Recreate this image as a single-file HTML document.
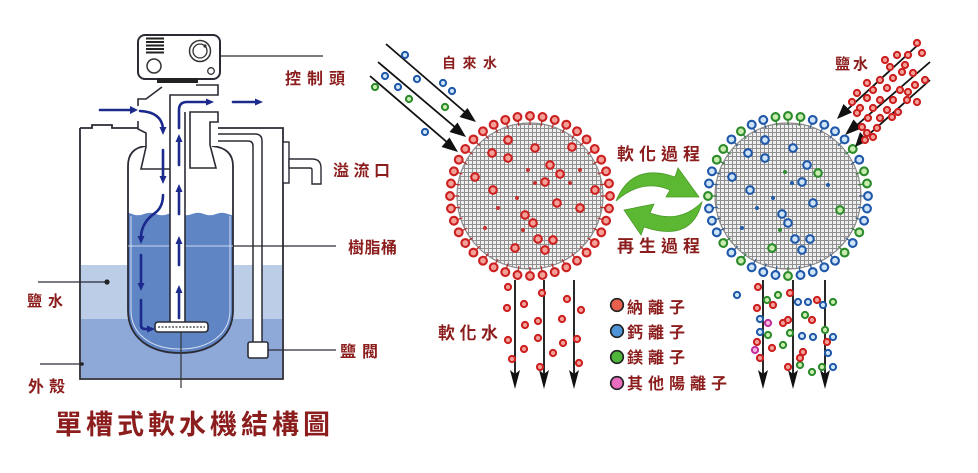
<!DOCTYPE html>
<html><head><meta charset="utf-8">
<style>
html,body{margin:0;padding:0;background:#fff;}
svg{display:block;}
text{font-family:"Liberation Sans","Noto Sans CJK TC",sans-serif;fill:#8c1d1d;font-weight:700;}
</style></head><body>
<svg width="978" height="473" viewBox="0 0 978 473" xmlns="http://www.w3.org/2000/svg">
<defs>
<pattern id="grid" width="4" height="4" patternUnits="userSpaceOnUse">
<rect width="4" height="4" fill="#efefef"/>
<path d="M0 0.5H4M0.5 0V4" stroke="#8f8f8f" stroke-width="1"/>
</pattern>
<clipPath id="tankclip"><path d="M146,146 Q128,148 128,166 V310 C128,338 150,353 180,353 C210,353 233,338 233,310 V166 Q233,148 212,146 Z"/></clipPath>
<g id="dr"><line x1="601" y1="196" x2="606" y2="196" stroke="#b03030" stroke-width="1.3"/><circle cx="610" cy="196" r="3.9" fill="#f2a098" stroke="#cc1f1f" stroke-width="2.1"/></g>
<g id="db"><line x1="859" y1="196" x2="864" y2="196" stroke="#3a5f90" stroke-width="1.3"/><circle cx="868" cy="196" r="3.9" fill="#cfe4f8" stroke="#1f58a8" stroke-width="2.1"/></g>
<g id="dg"><line x1="859" y1="196" x2="864" y2="196" stroke="#3a7a3a" stroke-width="1.3"/><circle cx="868" cy="196" r="3.9" fill="#c8ecae" stroke="#2b8a2b" stroke-width="2.1"/></g>
</defs>

<!-- ================= LEFT: softener structure ================= -->
<rect x="81" y="265" width="201" height="55" fill="#bccde8"/>
<rect x="81" y="319" width="201" height="59" fill="#8ea8d8"/>

<path d="M80,128 V379 H283 V128 H210 M80,128 H92 V125 H112 V128 H138" fill="none" stroke="#2b2b35" stroke-width="1.8"/>

<rect x="283" y="142" width="6" height="41" fill="#fff" stroke="#2b2b35" stroke-width="1.4"/>
<path d="M289,159 H312 Q321,159 321,168 V184 H312 V170 Q312,168 310,168 H289 Z" fill="#fff" stroke="#2b2b35" stroke-width="1.4"/>

<path d="M212,134 H255 Q262,134 262,141 V343 H253 V146 Q253,141 248,141 H212 Z" fill="#fff" stroke="#2b2b35" stroke-width="1.5"/>
<rect x="248" y="342" width="20" height="16" rx="2" fill="#fff" stroke="#2b2b35" stroke-width="1.6"/>

<path d="M146,146 Q128,148 128,166 V310 C128,338 150,353 180,353 C210,353 233,338 233,310 V166 Q233,148 212,146 Z" fill="#fff"/>
<g clip-path="url(#tankclip)">
<path d="M120,214 q6,-2.5 12,0 t12,0 t12,0 t12,0 t12,0 t12,0 t12,0 t12,0 t12,0 t12,0 V360 H120 Z" fill="#6085c5"/>
</g>
<path d="M131,216 V310 C131,335 152,349 180,349 C208,349 230,335 230,310 V216" fill="none" stroke="#d6e1f3" stroke-width="1"/>
<path d="M146,146 Q128,148 128,166 V310 C128,338 150,353 180,353 C210,353 233,338 233,310 V166 Q233,148 212,146" fill="none" stroke="#2b2b35" stroke-width="1.8"/>
<line x1="128" y1="246" x2="233" y2="246" stroke="#e3ebf8" stroke-width="1" opacity="0.8"/>

<rect x="139" y="96" width="79" height="50" fill="#fff"/>
<path d="M138,121 V129 L146,133 V147 L141,169 H170" fill="none" stroke="#2b2b35" stroke-width="1.6"/>
<path d="M138,106 V99 H146 L162,87" fill="none" stroke="#2b2b35" stroke-width="1.6"/>
<path d="M190,168 V112 H218 V122 H210 V145 L216,168 Z" fill="#fff" stroke="#2b2b35" stroke-width="1.6"/>
<rect x="170.5" y="95" width="14.5" height="228" fill="#fff"/>
<path d="M170,322 V95 H218 V85 H196" fill="none" stroke="#2b2b35" stroke-width="1.6"/>
<path d="M185,322 V112" fill="none" stroke="#2b2b35" stroke-width="1.6"/>
<rect x="155" y="322" width="53" height="10" rx="3" fill="#fff" stroke="#2b2b35" stroke-width="1.6"/>
<line x1="158" y1="327" x2="205" y2="327" stroke="#333" stroke-width="1.3" stroke-dasharray="2 1.5"/>
<line x1="181" y1="332" x2="181" y2="388" stroke="#333" stroke-width="1.2"/>

<rect x="138" y="35" width="82" height="44" rx="7" fill="#fff" stroke="#2b2b35" stroke-width="2"/>
<rect x="157" y="78" width="41" height="5" fill="#222"/>
<path d="M146,38.5H164M146,42H164M146,45.5H164M146,49H164M146,52.5H164" stroke="#222" stroke-width="2"/>
<circle cx="154" cy="66" r="7" fill="none" stroke="#333" stroke-width="1.5"/>
<circle cx="200" cy="51" r="10.5" fill="none" stroke="#333" stroke-width="1.5"/>
<circle cx="200" cy="51" r="7" fill="none" stroke="#333" stroke-width="1.3"/>
<circle cx="205" cy="46" r="1.6" fill="#333"/>
<circle cx="211" cy="71" r="3.3" fill="none" stroke="#333" stroke-width="1.3"/>

<g stroke="#2b2b35" stroke-width="1.3">
<line x1="220" y1="56" x2="323" y2="56"/>
<line x1="233" y1="246" x2="336" y2="246"/>
<line x1="268" y1="350" x2="336" y2="350"/>
<line x1="38" y1="282" x2="107" y2="282"/>
<line x1="40" y1="364" x2="81" y2="364"/>
</g>
<circle cx="107" cy="282" r="2.6" fill="#222"/>
<circle cx="82" cy="364" r="1.8" fill="#222"/>

<g stroke="#1b2a8c" stroke-width="2.6" fill="none" stroke-linecap="round">
<line x1="100" y1="110" x2="131" y2="110"/>
<path d="M140,111 Q161,112 163,128"/>
<line x1="163" y1="150" x2="163" y2="176"/>
<path d="M163,195 Q163,207 155,213 Q142,222 141,236"/>
<line x1="141" y1="255" x2="141" y2="283"/>
<path d="M141,300 V325 Q141,329 145,329 H148"/>
<line x1="179" y1="318" x2="179" y2="292"/>
<line x1="179" y1="265" x2="179" y2="243"/>
<line x1="179" y1="214" x2="179" y2="191"/>
<line x1="179" y1="165" x2="179" y2="141"/>
<path d="M179,128 V110 Q179,102 187,102 H207"/>
<line x1="233" y1="102" x2="256" y2="102"/>
</g>
<g fill="#1b2a8c">
<polygon points="130,106 138,110 130,114"/>
<polygon points="159.5,127 166.5,127 163,135"/>
<polygon points="159.5,176 166.5,176 163,184"/>
<polygon points="137.5,236 144.5,236 141,244"/>
<polygon points="137.5,283 144.5,283 141,291"/>
<polygon points="147,325.5 147,332.5 155,329"/>
<polygon points="175.5,293 182.5,293 179,285"/>
<polygon points="175.5,244 182.5,244 179,236"/>
<polygon points="175.5,192 182.5,192 179,184"/>
<polygon points="175.5,142 182.5,142 179,134"/>
<polygon points="206,98.5 206,105.5 214,102"/>
<polygon points="255,98.5 255,105.5 263,102"/>
</g>

<text x="285" y="84" font-size="16" letter-spacing="6">控制頭</text>
<text x="333" y="176" font-size="16" letter-spacing="4.5">溢流口</text>
<text x="348" y="253" font-size="16" letter-spacing="0.5">樹脂桶</text>
<text x="340" y="357" font-size="16" letter-spacing="6">鹽閥</text>
<text x="27" y="306" font-size="15" letter-spacing="6">鹽水</text>
<text x="28" y="392" font-size="16" letter-spacing="5">外殼</text>
<text x="55" y="434" font-size="27" letter-spacing="4">單槽式軟水機結構圖</text>

<!-- ================= RIGHT: ion exchange ================= -->
<circle cx="530" cy="196" r="73" fill="url(#grid)" stroke="#8a8a8a" stroke-width="1.2"/>
<circle cx="788" cy="196" r="73" fill="url(#grid)" stroke="#8a8a8a" stroke-width="1.2"/>

<g>
<use href="#dr" transform="rotate(0 530 196)"/><use href="#dr" transform="rotate(9 530 196)"/><use href="#dr" transform="rotate(18 530 196)"/><use href="#dr" transform="rotate(27 530 196)"/><use href="#dr" transform="rotate(36 530 196)"/><use href="#dr" transform="rotate(45 530 196)"/><use href="#dr" transform="rotate(54 530 196)"/><use href="#dr" transform="rotate(63 530 196)"/><use href="#dr" transform="rotate(72 530 196)"/><use href="#dr" transform="rotate(81 530 196)"/>
<use href="#dr" transform="rotate(90 530 196)"/><use href="#dr" transform="rotate(99 530 196)"/><use href="#dr" transform="rotate(108 530 196)"/><use href="#dr" transform="rotate(117 530 196)"/><use href="#dr" transform="rotate(126 530 196)"/><use href="#dr" transform="rotate(135 530 196)"/><use href="#dr" transform="rotate(144 530 196)"/><use href="#dr" transform="rotate(153 530 196)"/><use href="#dr" transform="rotate(162 530 196)"/><use href="#dr" transform="rotate(171 530 196)"/>
<use href="#dr" transform="rotate(180 530 196)"/><use href="#dr" transform="rotate(189 530 196)"/><use href="#dr" transform="rotate(198 530 196)"/><use href="#dr" transform="rotate(207 530 196)"/><use href="#dr" transform="rotate(216 530 196)"/><use href="#dr" transform="rotate(225 530 196)"/><use href="#dr" transform="rotate(234 530 196)"/><use href="#dr" transform="rotate(243 530 196)"/><use href="#dr" transform="rotate(252 530 196)"/><use href="#dr" transform="rotate(261 530 196)"/>
<use href="#dr" transform="rotate(270 530 196)"/><use href="#dr" transform="rotate(279 530 196)"/><use href="#dr" transform="rotate(288 530 196)"/><use href="#dr" transform="rotate(297 530 196)"/><use href="#dr" transform="rotate(306 530 196)"/><use href="#dr" transform="rotate(315 530 196)"/><use href="#dr" transform="rotate(324 530 196)"/><use href="#dr" transform="rotate(333 530 196)"/><use href="#dr" transform="rotate(342 530 196)"/><use href="#dr" transform="rotate(351 530 196)"/>
</g>

<g>
<use href="#db" transform="rotate(0 788 196)"/><use href="#db" transform="rotate(9 788 196)"/><use href="#db" transform="rotate(18 788 196)"/><use href="#dg" transform="rotate(27 788 196)"/><use href="#db" transform="rotate(36 788 196)"/><use href="#dg" transform="rotate(45 788 196)"/><use href="#db" transform="rotate(54 788 196)"/><use href="#db" transform="rotate(63 788 196)"/><use href="#db" transform="rotate(72 788 196)"/><use href="#db" transform="rotate(81 788 196)"/>
<use href="#dg" transform="rotate(90 788 196)"/><use href="#db" transform="rotate(99 788 196)"/><use href="#db" transform="rotate(108 788 196)"/><use href="#db" transform="rotate(117 788 196)"/><use href="#dg" transform="rotate(126 788 196)"/><use href="#db" transform="rotate(135 788 196)"/><use href="#dg" transform="rotate(144 788 196)"/><use href="#db" transform="rotate(153 788 196)"/><use href="#db" transform="rotate(162 788 196)"/><use href="#db" transform="rotate(171 788 196)"/>
<use href="#dg" transform="rotate(180 788 196)"/><use href="#db" transform="rotate(189 788 196)"/><use href="#db" transform="rotate(198 788 196)"/><use href="#dg" transform="rotate(207 788 196)"/><use href="#dg" transform="rotate(216 788 196)"/><use href="#db" transform="rotate(225 788 196)"/><use href="#dg" transform="rotate(234 788 196)"/><use href="#db" transform="rotate(243 788 196)"/><use href="#db" transform="rotate(252 788 196)"/><use href="#dg" transform="rotate(261 788 196)"/>
<use href="#dg" transform="rotate(270 788 196)"/><use href="#dg" transform="rotate(279 788 196)"/><use href="#db" transform="rotate(288 788 196)"/><use href="#db" transform="rotate(297 788 196)"/><use href="#db" transform="rotate(306 788 196)"/><use href="#db" transform="rotate(315 788 196)"/><use href="#dg" transform="rotate(324 788 196)"/><use href="#db" transform="rotate(333 788 196)"/><use href="#dg" transform="rotate(342 788 196)"/><use href="#dg" transform="rotate(351 788 196)"/>
</g>

<g fill="#f2a098" stroke="#cc1f1f" stroke-width="2.1">
<circle cx="508" cy="140" r="3.8"/><circle cx="535" cy="148" r="3.8"/><circle cx="572" cy="147" r="3.8"/><circle cx="492" cy="153" r="3.8"/><circle cx="508" cy="158" r="3.8"/><circle cx="550" cy="165" r="3.8"/><circle cx="560" cy="174" r="3.8"/><circle cx="475" cy="177" r="3.8"/><circle cx="545" cy="182" r="3.8"/><circle cx="493" cy="190" r="3.8"/><circle cx="557" cy="203" r="3.8"/><circle cx="580" cy="208" r="3.8"/><circle cx="595" cy="190" r="3.8"/><circle cx="525" cy="215" r="3.8"/><circle cx="533" cy="223" r="3.8"/><circle cx="538" cy="239" r="3.8"/><circle cx="553" cy="240" r="3.8"/><circle cx="515" cy="248" r="3.8"/><circle cx="545" cy="250" r="3.8"/>
</g>
<g fill="#c83030">
<circle cx="528" cy="170" r="2"/><circle cx="570" cy="183" r="2"/><circle cx="517" cy="198" r="2"/><circle cx="498" cy="208" r="2"/><circle cx="485" cy="228" r="2"/><circle cx="523" cy="230" r="2"/><circle cx="580" cy="170" r="2"/><circle cx="535" cy="183" r="2"/>
</g>

<g fill="#cfe4f8" stroke="#1f58a8" stroke-width="2.1">
<circle cx="765" cy="140" r="3.8"/><circle cx="748" cy="153" r="3.8"/><circle cx="765" cy="158" r="3.8"/><circle cx="793" cy="148" r="3.8"/><circle cx="807" cy="165" r="3.8"/><circle cx="802" cy="182" r="3.8"/><circle cx="732" cy="177" r="3.8"/><circle cx="750" cy="190" r="3.8"/><circle cx="813" cy="203" r="3.8"/><circle cx="782" cy="214" r="3.8"/><circle cx="788" cy="223" r="3.8"/><circle cx="810" cy="239" r="3.8"/><circle cx="795" cy="239" r="3.8"/><circle cx="802" cy="250" r="3.8"/>
</g>
<g fill="#c8ecae" stroke="#2b8a2b" stroke-width="2.1">
<circle cx="818" cy="173" r="3.8"/><circle cx="840" cy="210" r="3.8"/><circle cx="772" cy="248" r="3.8"/>
</g>
<g>
<circle cx="785" cy="172" r="2" fill="#2e8b2e"/><circle cx="792" cy="183" r="2" fill="#1f5aa8"/><circle cx="828" cy="185" r="2" fill="#1f5aa8"/><circle cx="773" cy="198" r="2" fill="#1f5aa8"/><circle cx="757" cy="208" r="2" fill="#1f5aa8"/><circle cx="742" cy="228" r="2" fill="#1f5aa8"/><circle cx="780" cy="230" r="2" fill="#2e8b2e"/>
</g>

<g stroke="#111" stroke-width="1.8">
<line x1="386" y1="44" x2="466" y2="113"/>
<line x1="378" y1="62" x2="456" y2="128"/>
<line x1="370" y1="76" x2="448" y2="143"/>
</g>
<g fill="#111">
<polygon points="476,122 459.5,117 467.5,108"/>
<polygon points="466,137 449.5,132 457.5,122.5"/>
<polygon points="458,152 441.5,147 449.5,137.5"/>
</g>
<g fill="#cfe4f8" stroke="#1f58a8" stroke-width="2">
<circle cx="405" cy="55" r="3.1"/><circle cx="385" cy="76" r="3.1"/><circle cx="398" cy="87" r="3.1"/><circle cx="417" cy="79" r="3.1"/><circle cx="443" cy="83" r="3.1"/><circle cx="452" cy="91" r="3.1"/><circle cx="425" cy="132" r="3.1"/>
</g>
<g fill="#c8ecae" stroke="#2b8a2b" stroke-width="2">
<circle cx="375" cy="87" r="3.1"/><circle cx="409" cy="99" r="3.1"/><circle cx="445" cy="107" r="3.1"/>
</g>

<g stroke="#111" stroke-width="1.8">
<line x1="920" y1="43" x2="848" y2="109"/>
<line x1="930" y1="62" x2="857" y2="125"/>
<line x1="930" y1="80" x2="866" y2="137"/>
</g>
<g fill="#111">
<polygon points="837,119 843.5,104 852,112.5"/>
<polygon points="845,135 853.5,119.5 861.5,128.5"/>
<polygon points="855,147 860,132 868,141"/>
</g>
<g fill="#f2a098" stroke="#cc1f1f" stroke-width="2">
<circle cx="917" cy="43" r="3.1"/><circle cx="908" cy="55" r="3.1"/><circle cx="922" cy="53" r="3.1"/><circle cx="897" cy="55" r="3.1"/><circle cx="890" cy="67" r="3.1"/><circle cx="905" cy="65" r="3.1"/><circle cx="913" cy="73" r="3.1"/><circle cx="902" cy="72" r="3.1"/><circle cx="925" cy="80" r="3.1"/><circle cx="893" cy="78" r="3.1"/><circle cx="880" cy="80" r="3.1"/><circle cx="867" cy="83" r="3.1"/><circle cx="873" cy="90" r="3.1"/><circle cx="887" cy="88" r="3.1"/><circle cx="900" cy="90" r="3.1"/><circle cx="908" cy="92" r="3.1"/><circle cx="917" cy="102" r="3.1"/><circle cx="907" cy="100" r="3.1"/><circle cx="893" cy="100" r="3.1"/><circle cx="880" cy="100" r="3.1"/><circle cx="867" cy="98" r="3.1"/><circle cx="857" cy="93" r="3.1"/><circle cx="852" cy="102" r="3.1"/><circle cx="860" cy="108" r="3.1"/><circle cx="873" cy="108" r="3.1"/><circle cx="887" cy="110" r="3.1"/><circle cx="898" cy="112" r="3.1"/><circle cx="892" cy="117" r="3.1"/><circle cx="880" cy="118" r="3.1"/><circle cx="868" cy="118" r="3.1"/><circle cx="862" cy="127" r="3.1"/><circle cx="877" cy="128" r="3.1"/><circle cx="873" cy="137" r="3.1"/><circle cx="867" cy="133" r="3.1"/><circle cx="865" cy="140" r="3.1"/><circle cx="857" cy="113" r="3.1"/><circle cx="915" cy="85" r="3.1"/><circle cx="885" cy="60" r="3.1"/>
</g>

<!-- green cycle arrows -->
<path d="M616,201 Q632,162 675,177 L678,168 L699,197 L666,197 L670,190 Q642,178 616,201 Z" fill="#5cb832" stroke="#4a9a28" stroke-width="0.8"/>
<path d="M702,202 Q692,243 644,227 L641,235 L624,210 L654,204 L650,213 Q680,224 702,202 Z" fill="#5cb832" stroke="#4a9a28" stroke-width="0.8"/>

<g stroke="#111" stroke-width="1.8">
<line x1="515" y1="280" x2="515" y2="375"/>
<line x1="544" y1="280" x2="544" y2="375"/>
<line x1="574" y1="280" x2="574" y2="375"/>
<line x1="763" y1="280" x2="763" y2="375"/>
<line x1="793" y1="280" x2="793" y2="375"/>
<line x1="825" y1="280" x2="825" y2="375"/>
</g>
<g fill="#111">
<polygon points="510,370 515,374 520,370 515,389"/>
<polygon points="539,370 544,374 549,370 544,389"/>
<polygon points="569,370 574,374 579,370 574,389"/>
<polygon points="758,370 763,374 768,370 763,389"/>
<polygon points="788,370 793,374 798,370 793,389"/>
<polygon points="820,370 825,374 830,370 825,389"/>
</g>
<g fill="#f2a098" stroke="#cc1f1f" stroke-width="2">
<circle cx="508" cy="287" r="3.1"/><circle cx="542" cy="293" r="3.1"/><circle cx="567" cy="299" r="3.1"/><circle cx="507" cy="308" r="3.1"/><circle cx="524" cy="304" r="3.1"/><circle cx="581" cy="310" r="3.1"/><circle cx="538" cy="321" r="3.1"/><circle cx="525" cy="325" r="3.1"/><circle cx="562" cy="319" r="3.1"/><circle cx="508" cy="340" r="3.1"/><circle cx="538" cy="338" r="3.1"/><circle cx="563" cy="343" r="3.1"/><circle cx="577" cy="339" r="3.1"/><circle cx="524" cy="349" r="3.1"/><circle cx="553" cy="353" r="3.1"/><circle cx="512" cy="359" r="3.1"/><circle cx="540" cy="367" r="3.1"/><circle cx="579" cy="363" r="3.1"/>
</g>
<g fill="#cfe4f8" stroke="#1f58a8" stroke-width="2">
<circle cx="737" cy="295" r="3.1"/><circle cx="798" cy="302" r="3.1"/><circle cx="808" cy="302" r="3.1"/><circle cx="823" cy="305" r="3.1"/><circle cx="760" cy="319" r="3.1"/><circle cx="760" cy="332" r="3.1"/><circle cx="802" cy="336" r="3.1"/><circle cx="813" cy="337" r="3.1"/><circle cx="833" cy="337" r="3.1"/><circle cx="828" cy="353" r="3.1"/><circle cx="833" cy="367" r="3.1"/>
</g>
<g fill="#c8ecae" stroke="#2b8a2b" stroke-width="2">
<circle cx="767" cy="300" r="3.1"/><circle cx="778" cy="295" r="3.1"/><circle cx="833" cy="302" r="3.1"/><circle cx="805" cy="315" r="3.1"/><circle cx="768" cy="335" r="3.1"/><circle cx="790" cy="333" r="3.1"/><circle cx="825" cy="330" r="3.1"/><circle cx="783" cy="345" r="3.1"/><circle cx="800" cy="365" r="3.1"/><circle cx="812" cy="372" r="3.1"/><circle cx="822" cy="367" r="3.1"/>
</g>
<g fill="#f2a098" stroke="#cc1f1f" stroke-width="2">
<circle cx="758" cy="287" r="3.1"/><circle cx="790" cy="293" r="3.1"/><circle cx="773" cy="305" r="3.1"/><circle cx="817" cy="300" r="3.1"/><circle cx="757" cy="308" r="3.1"/><circle cx="812" cy="320" r="3.1"/><circle cx="783" cy="323" r="3.1"/><circle cx="788" cy="320" r="3.1"/><circle cx="757" cy="342" r="3.1"/><circle cx="772" cy="348" r="3.1"/><circle cx="803" cy="352" r="3.1"/><circle cx="827" cy="342" r="3.1"/><circle cx="760" cy="358" r="3.1"/><circle cx="800" cy="358" r="3.1"/><circle cx="788" cy="367" r="3.1"/>
</g>
<g fill="#f7b7e0" stroke="#c0309a" stroke-width="2">
<circle cx="768" cy="323" r="3.1"/><circle cx="755" cy="350" r="3.1"/>
</g>

<circle cx="617" cy="305" r="6.3" fill="#e8604c" stroke="#222" stroke-width="1.7"/>
<circle cx="617" cy="331" r="6.3" fill="#4f94d8" stroke="#222" stroke-width="1.7"/>
<circle cx="617" cy="357" r="6.3" fill="#4fb43a" stroke="#222" stroke-width="1.7"/>
<circle cx="617" cy="383" r="6.3" fill="#ea6cc0" stroke="#222" stroke-width="1.7"/>
<text x="627" y="313" font-size="16" letter-spacing="5">納離子</text>
<text x="627" y="338" font-size="16" letter-spacing="5">鈣離子</text>
<text x="627" y="363" font-size="16" letter-spacing="5">鎂離子</text>
<text x="627" y="389" font-size="16" letter-spacing="5">其他陽離子</text>

<text x="442" y="68" font-size="14" letter-spacing="6.5">自來水</text>
<text x="835" y="69" font-size="15" letter-spacing="3">鹽水</text>
<text x="617" y="160" font-size="17" letter-spacing="5">軟化過程</text>
<text x="617" y="252" font-size="17" letter-spacing="5">再生過程</text>
<text x="438" y="339" font-size="17" letter-spacing="4.5">軟化水</text>
</svg>
</body></html>
